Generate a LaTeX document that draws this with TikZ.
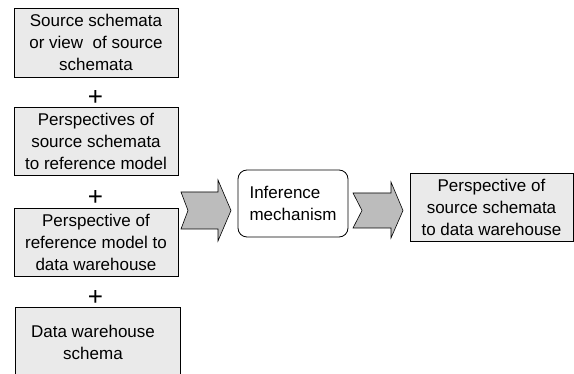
\documentclass[tikz,border=0pt]{standalone}
\usepackage{fontspec}
\setmainfont{Liberation Sans}
\definecolor{boxgray}{RGB}{234,234,234}
\definecolor{arrowgray}{RGB}{188,188,188}
\begin{document}
\begin{tikzpicture}[x=1pt,y=-1pt,
  txt/.style={align=center, inner sep=0pt, font=\fontsize{17}{22}\selectfont},
  box/.style={txt, draw=black, fill=boxgray, line width=0.8pt, minimum width=164pt},
  plus/.style={inner sep=0pt, font=\fontsize{26}{26}\selectfont},
  blockarrow/.style={draw=black, fill=arrowgray, line width=0.6pt, line join=miter}]
\useasboundingbox (0,0) rectangle (574,374);
\clip (0,0) rectangle (574,374);
\node[box, minimum height=69pt] (b1) at (96,42.5) {Source schemata\\or view\ \ of source\\schemata};
\node[plus] (p1) at (95.5,97.5) {+};
\node[box, minimum height=68pt] (b2) at (96,141) {Perspectives of\\source schemata\\to reference model};
\node[plus] (p2) at (95.5,197.5) {+};
\node[box, minimum height=68pt] (b3) at (96,242) {Perspective of\\reference model to\\data warehouse};
\node[plus] (p3) at (95.5,297.5) {+};
\node[box, minimum width=165pt, minimum height=93pt] (b4) at (97.5,353.5) {};
\node[txt] (b4t) at (93,342) {Data warehouse\\schema};
\node[txt, align=left, draw=black, fill=white, line width=0.8pt, rounded corners=9pt,
      minimum width=110pt, minimum height=67pt] (inf) at (293,203.5) {Inference\\mechanism};
\node[box, minimum width=163pt, minimum height=68pt] (out) at (491.5,207) {Perspective of\\source schemata\\to data warehouse};
% block arrows
\draw[blockarrow] (181,192) -- (218,192) -- (218,180) -- (231,210.5) -- (218,241)
  -- (218,229) -- (181,229) -- (188,210.5) -- cycle;
\draw[blockarrow] (353,193) -- (391,193) -- (391,182) -- (403,210.5) -- (391,238)
  -- (391,228) -- (353,228) -- (362,210.5) -- cycle;
\end{tikzpicture}
\end{document}
